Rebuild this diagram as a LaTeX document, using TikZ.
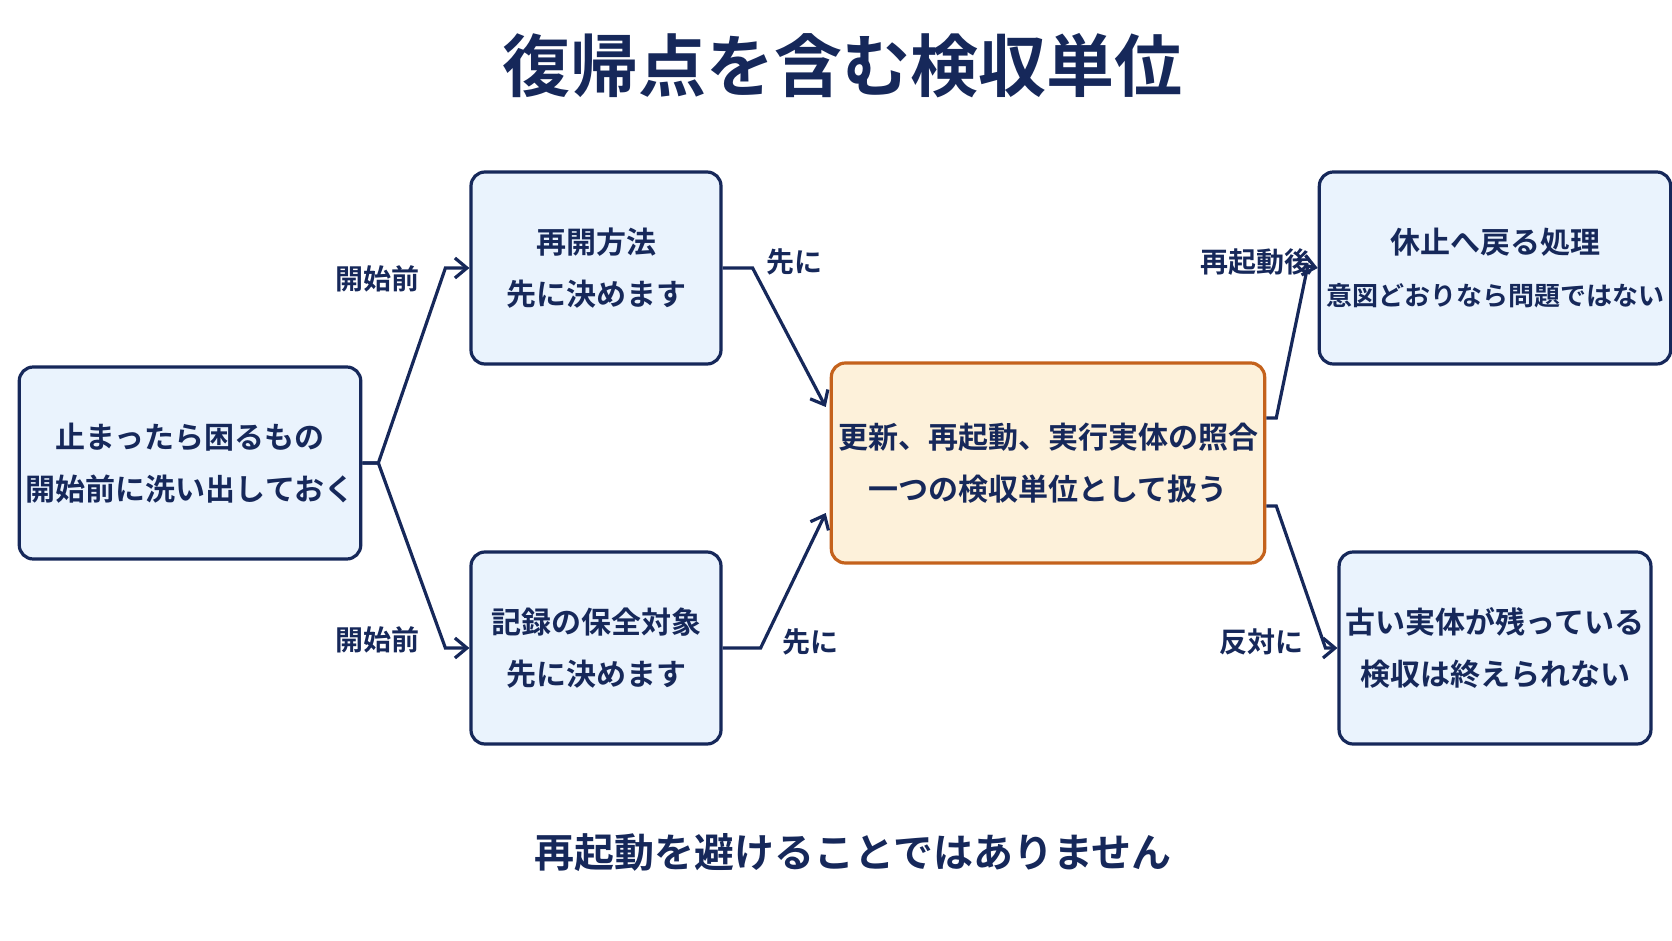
\documentclass[tikz,border=0pt]{standalone}
\usepackage{fontspec}
\setmainfont{Noto Sans CJK JP}[BoldFont={Noto Sans CJK JP Bold}]
\usetikzlibrary{calc,arrows.meta}
\definecolor{navy}{HTML}{16285A}
\definecolor{boxfill}{HTML}{EAF3FD}
\definecolor{hotfill}{HTML}{FDF1DA}
\definecolor{hotline}{HTML}{C4621C}
\newcommand{\boxfont}{\fontsize{15}{26}\selectfont\bfseries}
\begin{document}
\begin{tikzpicture}[x=.5pt,y=-.5pt,
  stage/.style={draw=navy, line width=1.6pt, fill=boxfill, rounded corners=7pt,
    minimum width=125pt, minimum height=96pt, align=center, text=navy, font=\boxfont},
  hot/.style={stage, draw=hotline, fill=hotfill, minimum width=202pt, minimum height=100pt},
  link/.style={draw=navy, line width=1.6pt, -{Straight Barb[length=6pt,width=10pt]}},
  tag/.style={text=navy, font=\fontsize{14}{16}\selectfont\bfseries}]
\useasboundingbox (0,0) rectangle (1672,941);
\node (title) at (842,66) [text=navy, font=\fontsize{34}{40}\selectfont\bfseries] {復帰点を含む検収単位};
\node (stop) at (190,463) [stage, minimum width=167pt] {止まったら困るもの\\開始前に洗い出しておく};
\node (resume) at (596,268) [stage] {再開方法\\先に決めます};
\node (log) at (596,648) [stage] {記録の保全対象\\先に決めます};
\node (unit) at (1048,463) [hot] {更新、再起動、実行実体の照合\\一つの検収単位として扱う};
\node (pause) at (1495,268) [stage, minimum width=152pt] {休止へ戻る処理\\{\fontsize{13}{22}\selectfont 意図どおりなら問題ではない}};
\node (old) at (1495,648) [stage, minimum width=152pt] {古い実体が残っている\\検収は終えられない};
\node (note) at (853,853) [text=navy, font=\fontsize{20}{24}\selectfont\bfseries] {再起動を避けることではありません};

\draw[link] (stop.east) -- ++(16,0) -- ($(resume.west)+(-24,0)$) -- (resume.west);
\draw[link] (stop.east) -- ++(16,0) -- ($(log.west)+(-24,0)$) -- (log.west);
\draw[link] (resume.east) -- ++(30,0) -- ($(unit.west)+(-4,-56)$);
\draw[link] (log.east) -- ++(38,0) -- ($(unit.west)+(-4,50)$);
\draw[link] ($(unit.east)+(0,-45)$) -- ++(10,0) -- ($(pause.west)+(-10,-2)$) -- (pause.west);
\draw[link] ($(unit.east)+(0,43)$) -- ++(10,0) -- ($(old.west)+(-12,0)$) -- (old.west);

\node (t1) at (377,279) [tag] {開始前};
\node (t2) at (377,640) [tag] {開始前};
\node (t3) at (794,262) [tag] {先に};
\node (t4) at (810,642) [tag] {先に};
\node (t5) at (1256,262) [tag] {再起動後};
\node (t6) at (1261,642) [tag] {反対に};
\end{tikzpicture}
\end{document}
